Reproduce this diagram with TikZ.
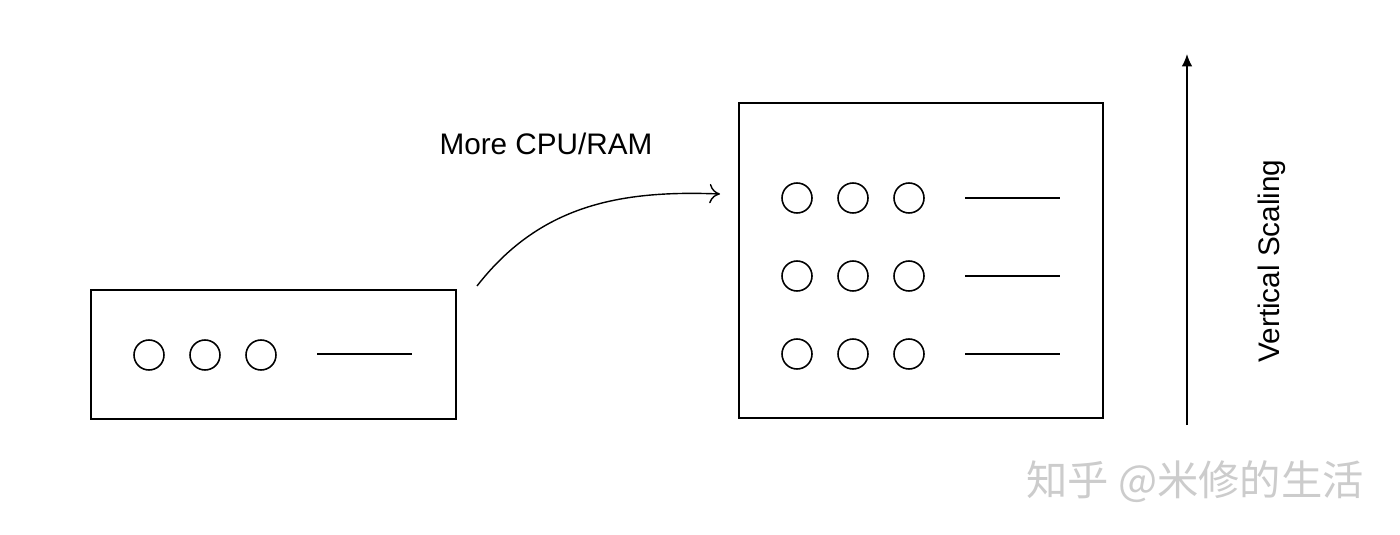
\documentclass[tikz,border=0pt]{standalone}
\usepackage{fontspec}
\setmainfont{Liberation Sans}
\newfontfamily\cjk{Noto Sans CJK SC}
\usetikzlibrary{arrows.meta}

\begin{document}
\begin{tikzpicture}[x=0.2mm,y=0.2mm]
\tikzstyle{every node}+=[inner sep=0pt]
\useasboundingbox (0,0) rectangle (1400,-535);
\fill [white] (0,0) rectangle (1400,-535);
% small server
\draw [black, line width=1pt] (91,-290) rectangle (456,-419);
\draw [black, line width=0.9pt] (149,-355) circle (15);
\draw [black, line width=0.9pt] (205,-355) circle (15);
\draw [black, line width=0.9pt] (261,-355) circle (15);
\draw [black, line width=0.9pt] (317,-354) -- (412,-354);
% big server
\draw [black, line width=1pt] (739,-103) rectangle (1103,-418);
\foreach \y in {-198,-276,-354} {
  \draw [black, line width=0.9pt] (797,\y) circle (15);
  \draw [black, line width=0.9pt] (853,\y) circle (15);
  \draw [black, line width=0.9pt] (909,\y) circle (15);
  \draw [black, line width=0.9pt] (965,\y) -- (1060,\y);
}
% scale up arrow
\coordinate (up0) at (477,-286);
\coordinate (up1) at (720,-194);
\draw [black, line width=0.8pt, -{To[length=6pt,width=11pt]}] (up0) .. controls (540,-205) and (620,-190) .. (up1);
\draw (546,-144) node (more) {\fontsize{16.9}{20}\selectfont More CPU/RAM};
% vertical arrow
\coordinate (va0) at (1187,-425);
\coordinate (va1) at (1187,-54);
\draw [black, line width=0.9pt, -{Latex[length=7pt,width=6pt]}] (va0) -- (va1);
\draw (1272,-261) node (vs) [rotate=90] {\fontsize{16.9}{20}\selectfont Vertical Scaling};
% watermark
\draw (1195,-482) node (wm) [text=black!20] {\cjk\fontsize{23.5}{26}\selectfont 知乎 @米修的生活};
\end{tikzpicture}
\end{document}
